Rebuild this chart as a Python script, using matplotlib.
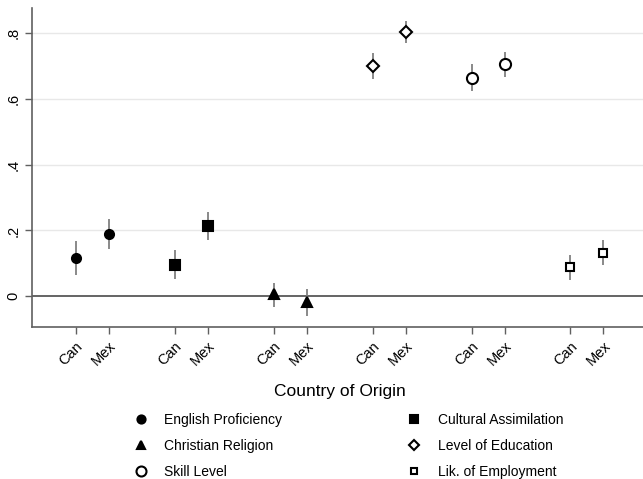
import matplotlib
matplotlib.use("Agg")
from matplotlib import pyplot as plt
import numpy as np

plt.rcParams['font.family'] = ['Liberation Sans', 'DejaVu Sans']

# estimates: (Can, Mex)
series = ["English Proficiency", "Cultural Assimilation", "Christian Religion",
          "Level of Education", "Skill Level", "Lik. of Employment"]
coef = [[0.117, 0.190], [0.096, 0.213], [0.006, -0.018],
        [0.700, 0.803], [0.665, 0.707], [0.088, 0.133]]
ci_lo = [[0.064, 0.145], [0.051, 0.172], [-0.033, -0.061],
         [0.661, 0.770], [0.625, 0.666], [0.049, 0.096]]
ci_hi = [[0.168, 0.234], [0.142, 0.256], [0.039, 0.023],
         [0.740, 0.837], [0.705, 0.743], [0.126, 0.170]]
countries = ["Can", "Mex"]

markers = ['o', 's', '^', 'D', 'o', 's']
filled = [True, True, True, False, False, False]
msizes = [6.5, 6.5, 7, 6, 8, 5.5]

fig = plt.figure(figsize=(6.43, 4.79), dpi=100)
ax = fig.add_axes([0.0498, 0.317, 0.9502, 0.666])

handles = {}
ticks = []
ticklabels = []
for i, name in enumerate(series):
    x = np.array([1, 2]) + 3 * i
    y = np.array(coef[i])
    lo = np.array(ci_lo[i])
    hi = np.array(ci_hi[i])
    ax.vlines(x, lo, hi, color='#808080', lw=1.3, zorder=2)
    h, = ax.plot(x, y, ls='none', marker=markers[i], ms=msizes[i],
                 mfc='black' if filled[i] else 'white', mec='black',
                 mew=1.5, zorder=3, label=name)
    handles[name] = h
    ticks += list(x)
    ticklabels += countries

ax.axhline(0, color='#4a4a4a', lw=1.2, zorder=1)
for g in [0.2, 0.4, 0.6, 0.8]:
    ax.axhline(g, color='#e8e8e8', lw=1.0, zorder=0)

ax.set_xlim(-0.33, 18.2)
ax.set_ylim(-0.094, 0.876)
ax.set_yticks([0, 0.2, 0.4, 0.6, 0.8])
ax.set_yticklabels(['0', '.2', '.4', '.6', '.8'], rotation=90, va='center', fontsize=10.5)
ax.set_xticks(ticks)
ax.set_xticklabels(ticklabels, rotation=45, ha='right', rotation_mode='anchor', fontsize=10.5)
ax.tick_params(axis='both', direction='out', length=5, color='#606060', width=1)

for s in ['top', 'right']:
    ax.spines[s].set_visible(False)
for s in ['left', 'bottom']:
    ax.spines[s].set_color('#606060')
    ax.spines[s].set_linewidth(1.2)

ax.set_xlabel("Country of Origin", fontsize=12.5)
ax.xaxis.set_label_coords((340 - 32) / 611, -0.178)

order = ["English Proficiency", "Christian Religion", "Skill Level",
         "Cultural Assimilation", "Level of Education", "Lik. of Employment"]
fig.legend([handles[n] for n in order], order, ncol=2, loc='upper left',
           bbox_to_anchor=(0.182, 0.1575), frameon=False, fontsize=10,
           columnspacing=8.5, handletextpad=0.7, labelspacing=0.85,
           markerscale=0.9, borderpad=0.2)

fig.savefig("out.png", dpi=100)
